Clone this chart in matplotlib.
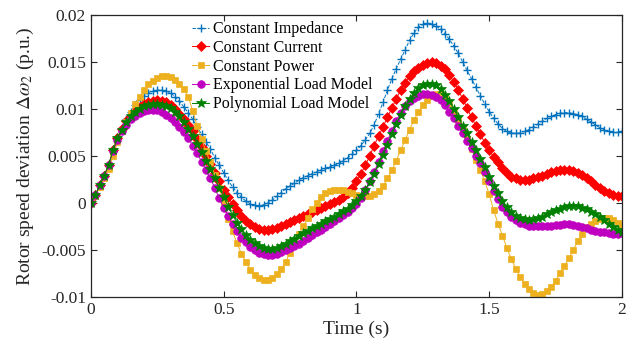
import numpy as np
import matplotlib
matplotlib.use("Agg")
import matplotlib.pyplot as plt

plt.rcParams["font.family"] = ["Liberation Serif", "DejaVu Serif"]
plt.rcParams["mathtext.fontset"] = "stix"

# time grid: one sample per 1/60 s from 0 to 2 s
t = np.arange(121) / 60.0

# rotor speed deviation, values in units of 1e-3 p.u.
const_impedance = [
    0, 0.8, 1.9, 2.9, 4.0, 5.6, 6.9, 8.0, 8.9, 9.7,
    10.4, 11.0, 11.4, 11.7, 11.9, 12.0, 12.0, 11.9, 11.7, 11.3,
    10.8, 10.2, 9.6, 8.9, 8.1, 7.3, 6.5, 5.7, 4.8, 4.0,
    3.2, 2.4, 1.7, 1.1, 0.6, 0.2, -0.1, -0.25, -0.3, -0.2,
    0.0, 0.3, 0.7, 1.1, 1.5, 1.8, 2.1, 2.4, 2.7, 2.9,
    3.1, 3.3, 3.5, 3.7, 3.8, 4.0, 4.2, 4.5, 4.8, 5.2,
    5.6, 6.1, 6.7, 7.4, 8.3, 9.5, 10.7, 12.0, 13.2, 14.3,
    15.3, 16.3, 17.3, 18.1, 18.7, 19.0, 19.1, 19.0, 18.8, 18.5,
    18.0, 17.4, 16.7, 15.9, 15.0, 14.1, 13.2, 12.3, 11.4, 10.5,
    9.7, 9.0, 8.4, 7.9, 7.6, 7.45, 7.4, 7.45, 7.6, 7.8,
    8.1, 8.4, 8.7, 9.0, 9.2, 9.4, 9.55, 9.6, 9.6, 9.5,
    9.4, 9.2, 8.9, 8.6, 8.3, 8.0, 7.8, 7.6, 7.5, 7.5,
    7.6,
]
const_current = [
    0, 0.8, 1.9, 2.9, 4.0, 5.6, 6.9, 7.9, 8.7, 9.3,
    9.8, 10.2, 10.5, 10.7, 10.85, 10.9, 10.85, 10.7, 10.4, 10.0,
    9.5, 8.9, 8.3, 7.6, 6.8, 5.9, 5.0, 4.1, 3.2, 2.3,
    1.4, 0.6, -0.1, -0.8, -1.4, -1.9, -2.3, -2.6, -2.8, -2.85,
    -2.85, -2.8, -2.65, -2.45, -2.25, -2.0, -1.8, -1.6, -1.4, -1.2,
    -1.0, -0.8, -0.55, -0.35, -0.15, 0.05, 0.3, 0.6, 1.0, 1.6,
    2.3, 3.1, 4.0, 5.0, 6.1, 7.1, 8.1, 9.1, 10.1, 11.1,
    12.0, 12.8, 13.5, 14.0, 14.4, 14.7, 14.9, 15.0, 14.9, 14.6,
    14.2, 13.6, 12.9, 12.0, 11.1, 10.1, 9.1, 8.2, 7.3, 6.4,
    5.6, 4.9, 4.3, 3.7, 3.2, 2.8, 2.6, 2.45, 2.4, 2.45,
    2.6, 2.75, 2.9, 3.1, 3.25, 3.35, 3.45, 3.5, 3.45, 3.35,
    3.2, 2.95, 2.65, 2.3, 1.95, 1.6, 1.3, 1.0, 0.8, 0.7,
    0.7,
]
const_power = [
    0, 0.7, 1.7, 2.6, 3.6, 5.0, 6.5, 7.6, 8.6, 9.6,
    10.5, 11.3, 12.0, 12.6, 13.0, 13.3, 13.5, 13.5, 13.4, 13.1,
    12.7, 12.1, 11.3, 9.8, 8.2, 6.8, 5.5, 4.3, 3.0, 1.6,
    0.0, -1.7, -3.0, -4.3, -5.4, -6.3, -7.1, -7.7, -8.0, -8.2,
    -8.2, -8.0, -7.6, -7.0, -6.3, -5.3, -4.2, -3.3, -2.5, -1.6,
    -0.7, 0.0, 0.6, 1.0, 1.25, 1.35, 1.4, 1.35, 1.2, 1.0,
    0.85, 0.75, 0.7, 0.75, 0.9, 1.3, 1.8, 2.6, 3.5, 4.5,
    5.6, 6.7, 7.8, 8.8, 9.7, 10.4, 11.0, 11.4, 11.6, 11.6,
    11.3, 10.6, 9.7, 8.8, 7.8, 6.8, 5.7, 4.6, 3.5, 2.3,
    0.9, -0.8, -2.2, -3.5, -4.8, -6.0, -7.0, -7.9, -8.6, -9.2,
    -9.6, -9.8, -9.7, -9.4, -8.9, -8.3, -7.5, -6.7, -5.9, -5.0,
    -4.1, -3.3, -2.6, -2.2, -1.9, -1.7, -1.6, -1.6, -1.8, -2.1,
    -2.5,
]
exponential = [
    0, 0.8, 1.9, 2.9, 4.0, 5.5, 6.7, 7.6, 8.3, 8.9,
    9.3, 9.6, 9.8, 9.9, 9.9, 9.85, 9.7, 9.4, 9.0, 8.6,
    8.1, 7.5, 6.9, 6.1, 5.3, 4.4, 3.5, 2.6, 1.6, 0.5,
    -0.5, -1.4, -2.3, -3.0, -3.7, -4.2, -4.7, -5.05, -5.3, -5.45,
    -5.5, -5.5, -5.4, -5.25, -5.05, -4.85, -4.6, -4.35, -4.05, -3.75,
    -3.45, -3.15, -2.85, -2.55, -2.25, -1.95, -1.65, -1.3, -0.95, -0.55,
    -0.1, 0.5, 1.4, 2.3, 3.3, 4.4, 5.5, 6.6, 7.7, 8.7,
    9.6, 10.3, 10.8, 11.2, 11.4, 11.55, 11.6, 11.5, 11.3, 10.9,
    10.4, 9.7, 9.0, 8.2, 7.4, 6.6, 5.8, 5.0, 4.2, 3.3,
    2.3, 1.3, 0.4, -0.4, -1.0, -1.5, -1.85, -2.1, -2.3, -2.45,
    -2.5, -2.5, -2.5, -2.5, -2.45, -2.4, -2.35, -2.3, -2.3, -2.35,
    -2.45, -2.6, -2.7, -2.85, -2.95, -3.05, -3.15, -3.25, -3.3, -3.3,
    -3.25,
]
polynomial = [
    0, 0.8, 1.9, 2.9, 4.0, 5.6, 6.9, 7.8, 8.6, 9.2,
    9.7, 10.0, 10.3, 10.45, 10.5, 10.5, 10.45, 10.3, 10.1, 9.7,
    9.2, 8.6, 7.9, 7.1, 6.3, 5.4, 4.5, 3.6, 2.6, 1.6,
    0.6, -0.4, -1.3, -2.1, -2.8, -3.4, -3.9, -4.3, -4.6, -4.8,
    -4.9, -4.9, -4.8, -4.6, -4.35, -4.1, -3.8, -3.5, -3.2, -2.95,
    -2.7, -2.45, -2.2, -1.95, -1.7, -1.45, -1.2, -0.9, -0.6, -0.25,
    0.15, 0.7, 1.4, 2.2, 3.1, 4.1, 5.1, 6.2, 7.3, 8.4,
    9.4, 10.3, 11.1, 11.7, 12.2, 12.5, 12.7, 12.7, 12.5, 12.1,
    11.5, 10.8, 10.0, 9.1, 8.2, 7.4, 6.5, 5.6, 4.7, 3.8,
    2.8, 1.8, 1.0, 0.2, -0.45, -0.95, -1.35, -1.6, -1.75, -1.8,
    -1.75, -1.6, -1.45, -1.2, -0.95, -0.75, -0.6, -0.45, -0.35, -0.3,
    -0.35, -0.5, -0.7, -0.95, -1.2, -1.5, -1.85, -2.2, -2.55, -2.85,
    -3.1,
]

labels = ["Constant Impedance", "Constant Current", "Constant Power",
          "Exponential Load Model", "Polynomial Load Model"]
xticks = [0, 0.5, 1, 1.5, 2]
xticklabels = ["0", "0.5", "1", "1.5", "2"]
yticks = [0.02, 0.015, 0.01, 0.005, 0, -0.005, -0.01]
yticklabels = ["0.02", "0.015", "0.01", "0.005", "0", "-0.005", "-0.01"]

fig = plt.figure(figsize=(6.27, 3.48), dpi=100)
ax = fig.add_axes([0.145, 0.147, 0.847, 0.81])

series = [const_impedance, const_current, const_power, exponential, polynomial]
styles = [
    dict(color="#0072BD", ls="--", marker="+", ms=6, mew=1.0),
    dict(color="#FF0000", ls="-", marker="D", ms=4.8, mew=0.5),
    dict(color="#EDB120", ls="-", marker="s", ms=4.7, mew=0.5),
    dict(color="#C000C0", ls="-", marker="o", ms=5.5, mew=0.5),
    dict(color="#008000", ls="-", marker="*", ms=7.5, mew=0.5),
]
for vals, lab, st in zip(series, labels, styles):
    ax.plot(t, np.array(vals) * 1e-3, lw=0.7, label=lab, **st)

ax.set_xlim(0, 2)
ax.set_ylim(-0.01, 0.02)
ax.set_xticks(xticks)
ax.set_xticklabels(xticklabels)
ax.set_yticks(yticks)
ax.set_yticklabels(yticklabels)
ax.tick_params(direction="in", top=True, right=True, labelsize=12.5,
               length=4, width=0.8, colors="#262626")
for sp in ax.spines.values():
    sp.set_linewidth(0.9)
    sp.set_color("#262626")

ax.set_xlabel("Time (s)", fontsize=14, color="#262626", labelpad=2)
ax.set_ylabel(r"Rotor speed deviation $\Delta\omega_2$ (p.u.)", fontsize=14,
              color="#262626", labelpad=4)

ax.legend(loc="upper left", bbox_to_anchor=(0.178, 1.0), frameon=False,
          fontsize=11.5, handlelength=1.1, handletextpad=0.25,
          labelspacing=0.17, borderaxespad=0.2, borderpad=0.2)

fig.savefig("out.png", dpi=100)
